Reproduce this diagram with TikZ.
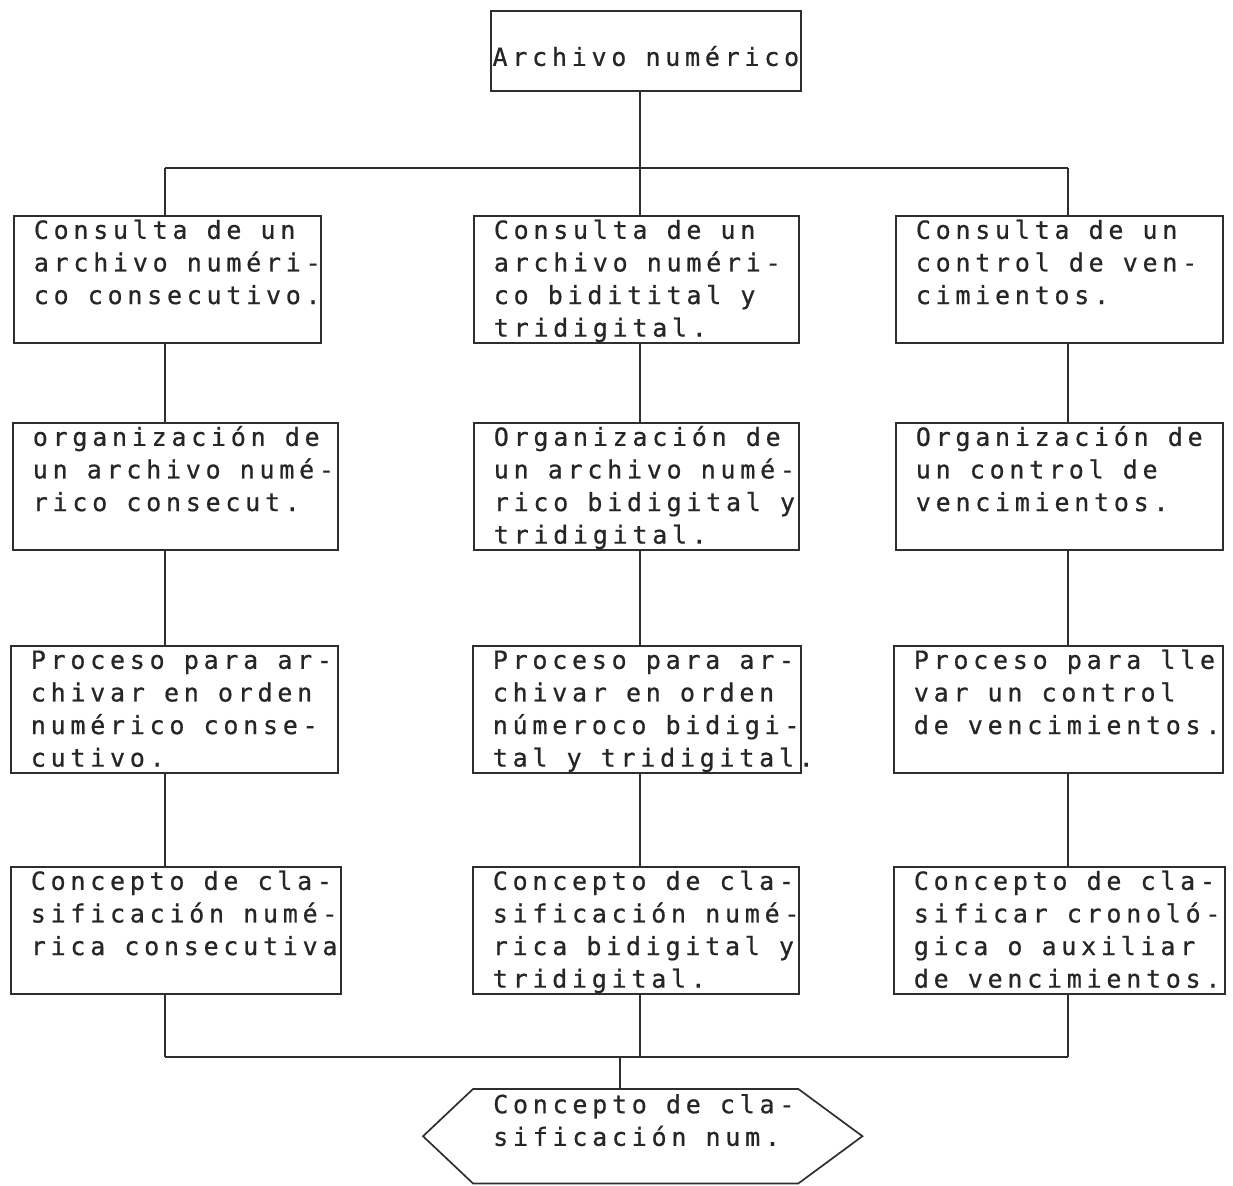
\documentclass[tikz,border=0pt]{standalone}
\usepackage{fontspec}
\usetikzlibrary{calc}
% typewriter-like monospaced face with wide letter pitch
\newfontfamily\typefont[LetterSpace=19,FakeBold=0.7]{DejaVu Sans Mono}
% lines of a box, left-indented, never broken
\newcommand{\boxlines}[2]{\hbox to #1{\kern20pt\begin{tabular}[t]{@{}l@{}}#2\end{tabular}\hss}}
\newcommand{\typesize}{\typefont\fontsize{25}{32.6}\selectfont\spaceskip 19.1pt\relax}

\tikzset{
  ink/.style={draw=black!82, line width=1.7pt},
  txt/.style={text=black!85, font={\typesize}},
  cbox/.style={ink, txt, rectangle, inner sep=0pt, anchor=north west,
               text height=23pt, text depth=104pt},
}

\begin{document}
\begin{tikzpicture}[x=1pt,y=-1pt]
\useasboundingbox (0,0) rectangle (1233,1185);

% column axes and bus levels
\coordinate (colL) at (165,0);
\coordinate (colM) at (640,0);
\coordinate (colR) at (1068,0);
\coordinate (busTop) at (0,168);
\coordinate (busBot) at (0,1057);
\coordinate (finX) at (620,0);

% root
\node[ink, txt, rectangle, inner sep=0pt, anchor=north west, text height=55pt, text depth=25pt]
  (top) at (490,10) {\hbox to 310pt{\hss Archivo numérico\hss}};

% row 1
\node[cbox] (r1l) at (13,215) {\boxlines{307pt}{Consulta de un\\archivo numéri-\\co consecutivo.}};
\node[cbox] (r1m) at (473,215) {\boxlines{325pt}{Consulta de un\\archivo numéri-\\co biditital y\\tridigital.}};
\node[cbox] (r1r) at (895,215) {\boxlines{327pt}{Consulta de un\\control de ven-\\cimientos.}};

% row 2
\node[cbox] (r2l) at (12,422) {\boxlines{325pt}{organización de\\un archivo numé-\\rico consecut.}};
\node[cbox] (r2m) at (473,422) {\boxlines{325pt}{Organización de\\un archivo numé-\\rico bidigital y\\tridigital.}};
\node[cbox] (r2r) at (895,422) {\boxlines{327pt}{Organización de\\un control de\\vencimientos.}};

% row 3
\node[cbox] (r3l) at (10,645) {\boxlines{327pt}{Proceso para ar-\\chivar en orden\\numérico conse-\\cutivo.}};
\node[cbox] (r3m) at (472,645) {\boxlines{328pt}{Proceso para ar-\\chivar en orden\\númeroco bidigi-\\tal y tridigital.}};
\node[cbox] (r3r) at (893,645) {\boxlines{329pt}{Proceso para lle\\var un control\\de vencimientos.}};

% row 4
\node[cbox] (r4l) at (10,866) {\boxlines{330pt}{Concepto de cla-\\sificación numé-\\rica consecutiva}};
\node[cbox] (r4m) at (472,866) {\boxlines{326pt}{Concepto de cla-\\sificación numé-\\rica bidigital y\\tridigital.}};
\node[cbox] (r4r) at (893,866) {\boxlines{331pt}{Concepto de cla-\\sificar cronoló-\\gica o auxiliar\\de vencimientos.}};

% terminal hexagon
\node[txt, rectangle, inner sep=0pt, anchor=north west, text height=24pt, text depth=70pt]
  (fin) at (473,1089) {\boxlines{325pt}{Concepto de cla-\\sificación num.}};
\draw[ink] (fin.north west) -- (fin.north east) -- ($(fin.east)+(64,0)$)
  -- (fin.south east) -- (fin.south west) -- ($(fin.west)+(-50,0)$) -- cycle;

% top distribution
\draw[ink] (top.south -| colM) -- (colM |- busTop);
\draw[ink] (colL |- busTop) -- (colR |- busTop);
\draw[ink] (colL |- busTop) -- (r1l.north -| colL);
\draw[ink] (colM |- busTop) -- (r1m.north -| colM);
\draw[ink] (colR |- busTop) -- (r1r.north -| colR);

% column links
\foreach \c/\k in {l/colL, m/colM, r/colR}{
  \draw[ink] (r1\c.south -| \k) -- (r2\c.north -| \k);
  \draw[ink] (r2\c.south -| \k) -- (r3\c.north -| \k);
  \draw[ink] (r3\c.south -| \k) -- (r4\c.north -| \k);
  \draw[ink] (r4\c.south -| \k) -- (\k |- busBot);
}

% bottom collection
\draw[ink] (colL |- busBot) -- (colR |- busBot);
\draw[ink] (finX |- busBot) -- (fin.north -| finX);
\end{tikzpicture}
\end{document}
